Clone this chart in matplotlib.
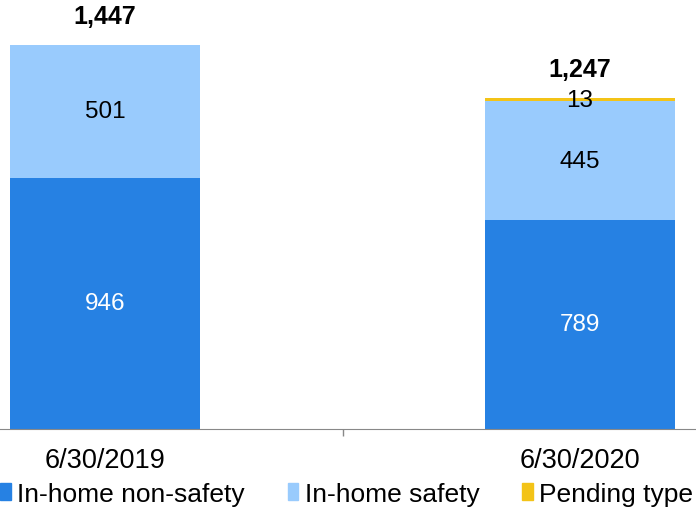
import matplotlib.pyplot as plt
from matplotlib.patches import Patch

plt.rcParams['font.family'] = ['Liberation Sans', 'DejaVu Sans']

dates = ['6/30/2019', '6/30/2020']
non_safety = [946, 789]
safety = [501, 445]
pending = [0, 13]
totals = ['1,447', '1,247']
series_names = ['In-home non-safety', 'In-home safety', 'Pending type']

c_dark = '#2681E3'
c_light = '#99CBFD'
c_yellow = '#F3C317'

fig = plt.figure(figsize=(6.96, 5.1), dpi=100)
ax = fig.add_axes([0, 80 / 510, 1, 430 / 510])

x = range(len(dates))
w = 0.4
ax.bar(x, non_safety, width=w, color=c_dark)
ax.bar(x, safety, width=w, bottom=non_safety, color=c_light)
bottom3 = [a + b for a, b in zip(non_safety, safety)]
ax.bar(x, pending, width=w, bottom=bottom3, color=c_yellow)

# segment labels
for i in x:
    ax.text(i, non_safety[i] / 2, str(non_safety[i]), ha='center', va='center',
            color='white', fontsize=17.5)
    ax.text(i, non_safety[i] + safety[i] / 2, str(safety[i]), ha='center', va='center',
            color='black', fontsize=17.5)
    if pending[i]:
        ax.text(i, bottom3[i] + pending[i] / 2, str(pending[i]), ha='center', va='center',
                color='black', fontsize=17.5)
    ax.annotate(totals[i], xy=(i, bottom3[i] + pending[i]), xytext=(0, 21),
                textcoords='offset points', ha='center', va='center',
                fontsize=18, fontweight='bold')

ax.set_xlim(-0.221, 1.244)
ax.set_ylim(0, 1620)
ax.set_xticks(list(x))
ax.set_xticklabels(dates, fontsize=19.5)
ax.tick_params(axis='x', which='major', length=0, pad=13)
ax.set_xticks([0.5], minor=True)
ax.tick_params(axis='x', which='minor', length=5, color='#888888', width=1)
ax.set_yticks([])
for s in ['top', 'left', 'right']:
    ax.spines[s].set_visible(False)
ax.spines['bottom'].set_color('#888888')

handles = [Patch(color=c_dark), Patch(color=c_light), Patch(color=c_yellow)]
fig.legend(handles, series_names,
           loc='center left', bbox_to_anchor=(0, 15 / 510), ncol=3, frameon=False,
           fontsize=19, handlelength=0.4, handleheight=0.6, handletextpad=0.25,
           columnspacing=1.62, borderpad=0, borderaxespad=0)

fig.savefig('out.png', dpi=100)
